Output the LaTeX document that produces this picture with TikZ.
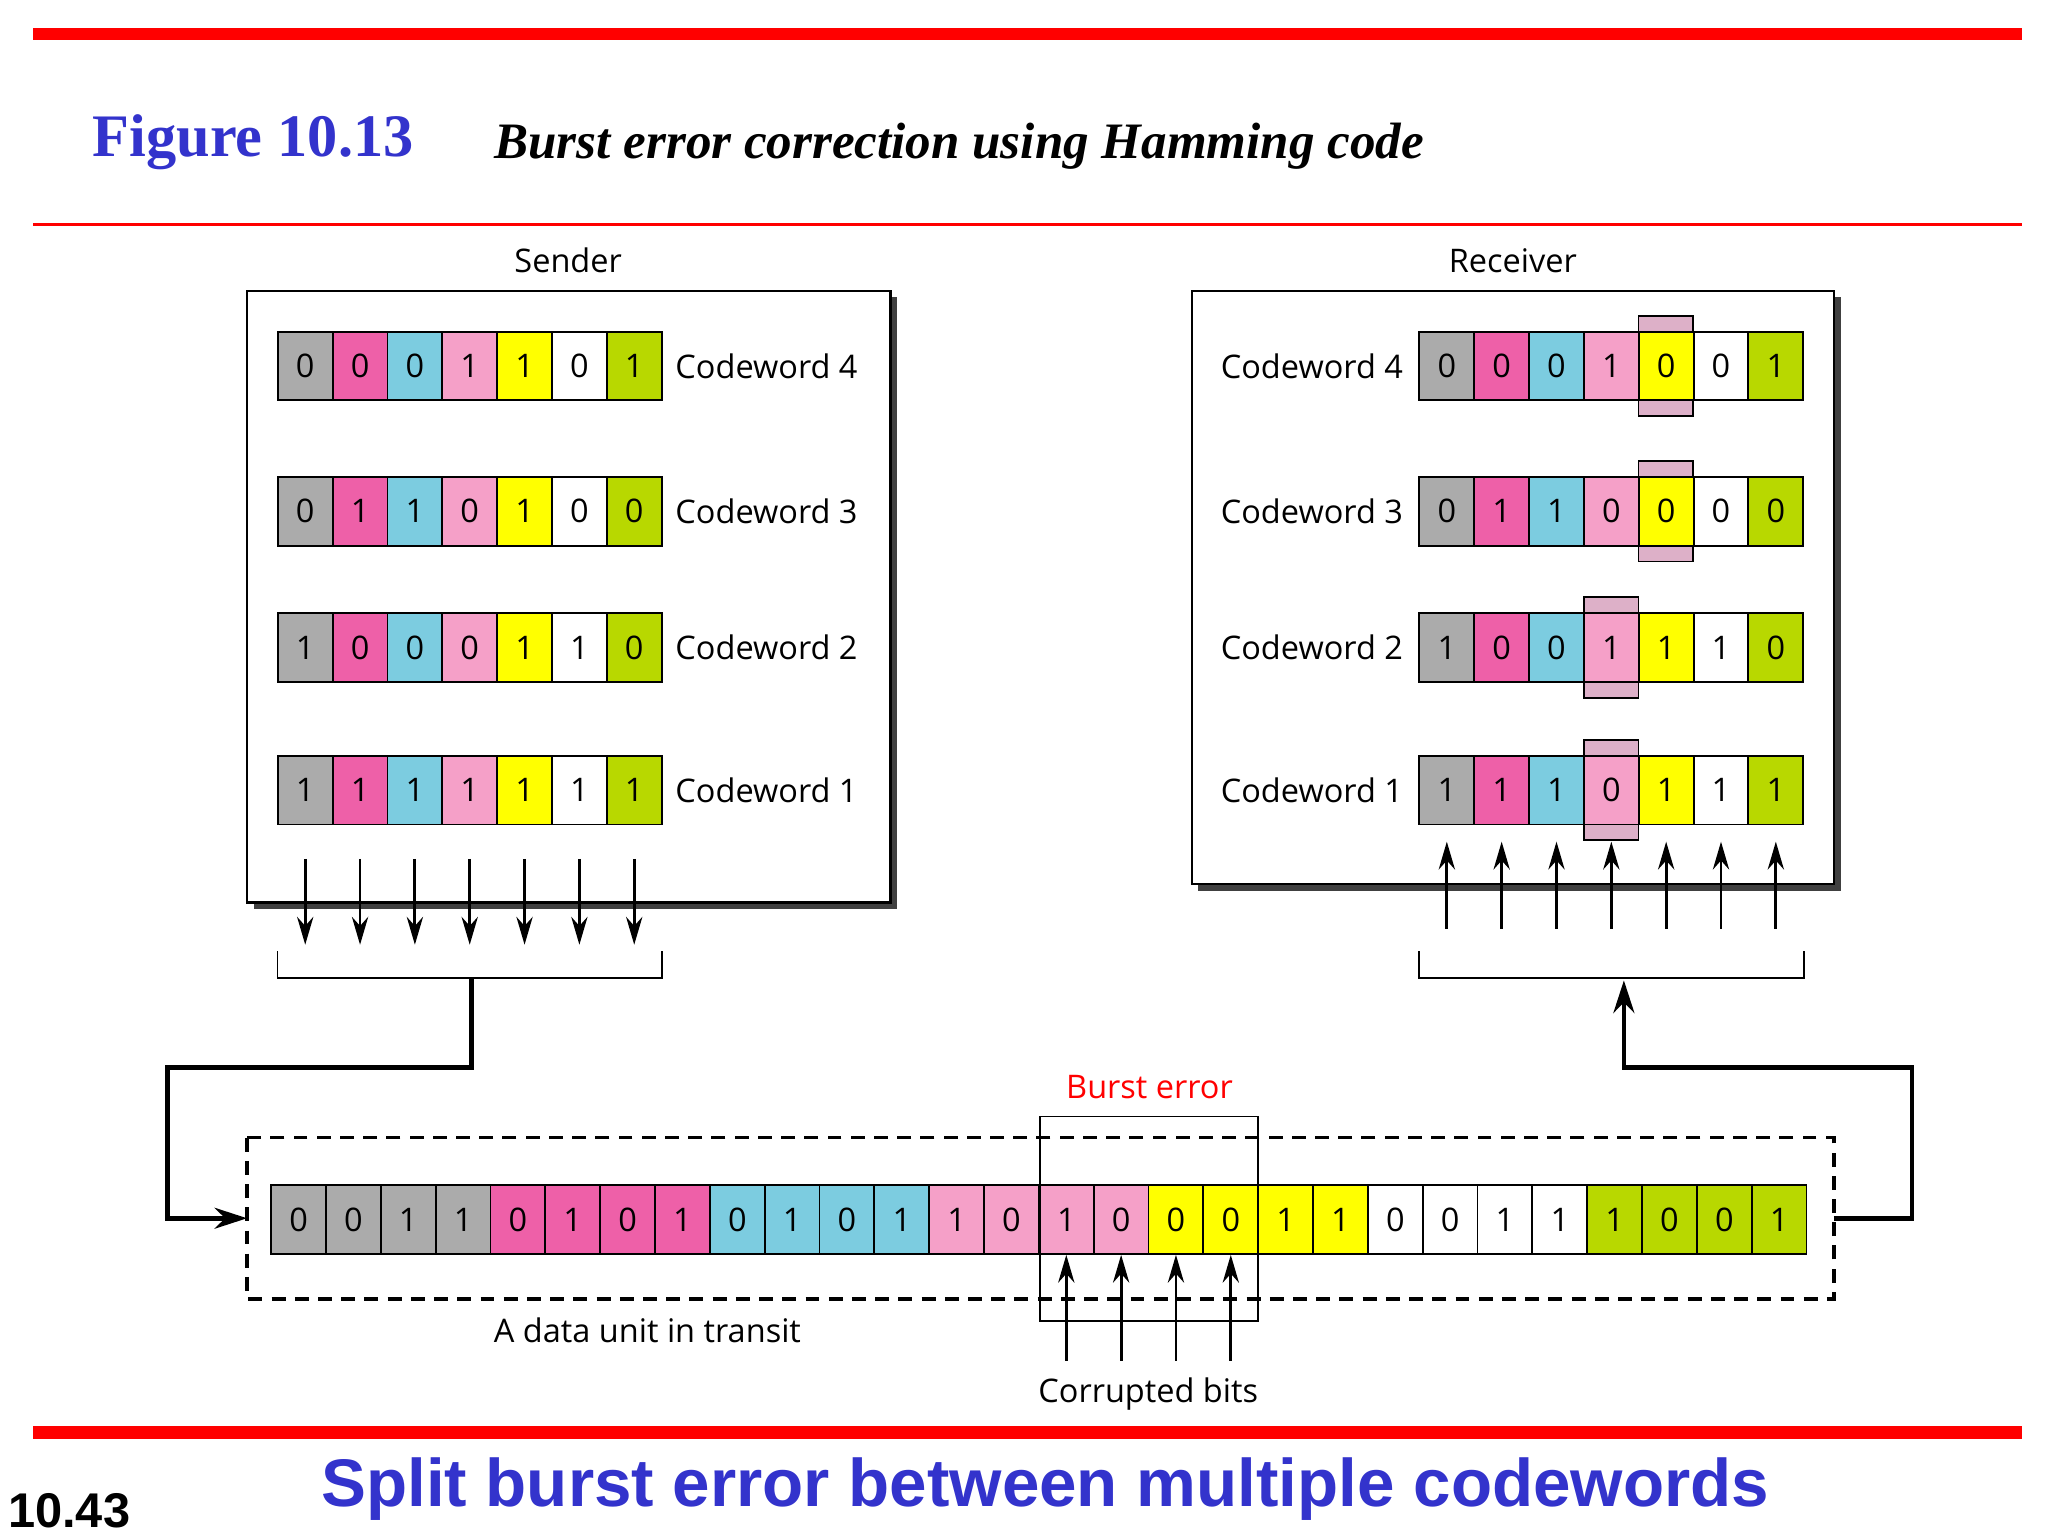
\documentclass[tikz,border=0pt]{standalone}
\usepackage{fontspec}
\setmainfont{Liberation Serif}
\newfontfamily\lab{Open Sans}
\newfontfamily\hel{Liberation Sans}
\usetikzlibrary{arrows.meta}
\definecolor{cg}{HTML}{ABABAB}
\definecolor{cm}{HTML}{EE60A8}
\definecolor{cc}{HTML}{7CCCE0}
\definecolor{cp}{HTML}{F5A0C8}
\definecolor{cy}{HTML}{FFFF00}
\definecolor{cw}{HTML}{FFFFFF}
\definecolor{cv}{HTML}{B8D800}
\definecolor{hl}{HTML}{DDB0C8}
\definecolor{ttl}{HTML}{3333CC}
\begin{document}
\begin{tikzpicture}[x=0.02cm,y=-0.02cm,
 cell/.style={draw,line width=0.8pt,minimum width=0.83cm,minimum height=1.04cm,inner sep=0,font=\lab\fontsize{14}{14}\selectfont,anchor=center},
 lbl/.style={font=\lab\fontsize{14}{14}\selectfont},
 arr/.style={line width=1.2pt,-{Stealth[length=12pt,width=7pt]}},
 con/.style={line width=2pt},
 box/.style={draw,line width=1pt,fill=white}]
\useasboundingbox (0,0) rectangle (1550,1163);
\fill[red] (25,21) rectangle (1530,30);
\draw[red,line width=1.5pt] (25,170)--(1530,170);
\fill[red] (25,1079) rectangle (1530,1089);
\node[anchor=west,text=ttl,font=\bfseries\fontsize{26}{26}\selectfont] (fig) at (64,108) {Figure 10.13};
\node[anchor=west,font=\bfseries\itshape\fontsize{22}{22}\selectfont] (cap) at (368,111) {Burst error correction using Hamming code};
\node[anchor=west,font=\hel\bfseries\fontsize{21}{21}\selectfont] (pg) at (0,1143) {10.43};
\node[text=ttl,font=\hel\bfseries\fontsize{29}{29}\selectfont] (sub) at (791,1127) {Split burst error between multiple codewords};
% sender box
\fill[black!75] (192,225) rectangle (679,688);
\draw[box] (187,220) rectangle (674,683);
\node[lbl] (snd) at (430,197) {Sender};
\fill[black!75] (907,225) rectangle (1393,674);
\draw[box] (902,220) rectangle (1388,669);
\node[lbl] (rcv) at (1145,197) {Receiver};
\def\cols{{"cg","cm","cc","cp","cy","cw","cv"}}
% sender rows
\foreach \r/\y/\bits in {4/277/{0,0,0,1,1,0,1},3/387/{0,1,1,0,1,0,0},2/490/{1,0,0,0,1,1,0},1/598/{1,1,1,1,1,1,1}}{
  \foreach \b [count=\k from 0] in \bits {
    \pgfmathsetmacro\cn{\cols[\k]}
    \node[cell,fill=\cn] (s\r-\k) at (231+41.5*\k,\y) {\b};
  }
  \node[lbl,anchor=west] (sl\r) at (505,\y) {Codeword \r};
}
% receiver highlights
\foreach \y/\k in {277/4,387/4,490/3,598/3}{
  \draw[fill=hl,line width=0.8pt] (1074+41.5*\k,\y-38) rectangle (1115.5+41.5*\k,\y+38);
}
\foreach \r/\y/\bits in {4/277/{0,0,0,1,0,0,1},3/387/{0,1,1,0,0,0,0},2/490/{1,0,0,1,1,1,0},1/598/{1,1,1,0,1,1,1}}{
  \foreach \b [count=\k from 0] in \bits {
    \pgfmathsetmacro\cn{\cols[\k]}
    \ifnum\r>2 \ifnum\k=4 \def\op{0.0}\else\def\op{1}\fi \else \ifnum\k=3 \def\op{0.0}\else\def\op{1}\fi\fi
    \node[cell,fill=\cn,fill opacity=\op,text opacity=1] (r\r-\k) at (1095+41.5*\k,\y) {\b};
  }
  \node[lbl,anchor=east] (rl\r) at (1068,\y) {Codeword \r};
}
% recolor highlighted cells partially (yellow / light pink inner)
\foreach \n/\c in {r4-4/cy,r3-4/cy,r2-3/cp,r1-3/cp}{
  \fill[\c] ([xshift=0.8pt,yshift=0.8pt]\n.south west) rectangle ([xshift=-0.8pt,yshift=-0.8pt]\n.north east);
}
\node[cell] at (r4-4) {0};\node[cell] at (r3-4) {0};\node[cell] at (r2-3) {1};\node[cell] at (r1-3) {0};
% sender arrows and bracket
\foreach \k in {0,...,6}{
  \coordinate (sa\k) at (231+41.5*\k,650);
  \coordinate (sb\k) at (231+41.5*\k,715);
  \draw[arr] (sa\k)--(sb\k);
  \coordinate (ra\k) at (1095+41.5*\k,703);
  \coordinate (rb\k) at (1095+41.5*\k,637);
  \draw[arr] (ra\k)--(rb\k);
}
\draw[line width=0.8pt] (210,720)--(210,740)--(501,740)--(501,720);
\draw[line width=0.8pt] (1074,720)--(1074,740)--(1365,740)--(1365,720);
% data unit
\draw[dashed,line width=1.5pt,dash pattern=on 6pt off 4pt] (187,861) rectangle (1388,983);
\foreach \b [count=\k from 0] in {0,0,1,1,0,1,0,1,0,1,0,1,1,0,1,0,0,0,1,1,0,0,1,1,1,0,0,1}{
  \pgfmathtruncatemacro\g{int(\k/4)}
  \pgfmathsetmacro\cn{\cols[\g]}
  \node[cell,fill=\cn] (d\k) at (226+41.5*\k,923) {\b};
}
\draw[line width=0.8pt] (787,845) rectangle (952,1000);
\node[lbl,text=red] (be) at (870,823) {Burst error};
\foreach \k in {14,...,17}{
  \coordinate (c\k) at (226+41.5*\k,1030);
  \draw[arr] (c\k)--(d\k.south);
}
\node[lbl] (cb) at (869,1055) {Corrupted bits};
\node[lbl] (du) at (490,1007) {A data unit in transit};
% connectors
\coordinate (sbr) at (357,740);
\coordinate (dl) at (187,922);
\draw[con,-{Stealth[length=14pt,width=9pt]}] (sbr)--(357,808)--(127,808)--(127,922)--(dl);
\coordinate (dr) at (1388,922);
\coordinate (rbr) at (1229,742);
\draw[con,-{Stealth[length=14pt,width=9pt]}] (dr)--(1447,922)--(1447,808)--(1229,808)--(rbr);
\end{tikzpicture}
\end{document}
